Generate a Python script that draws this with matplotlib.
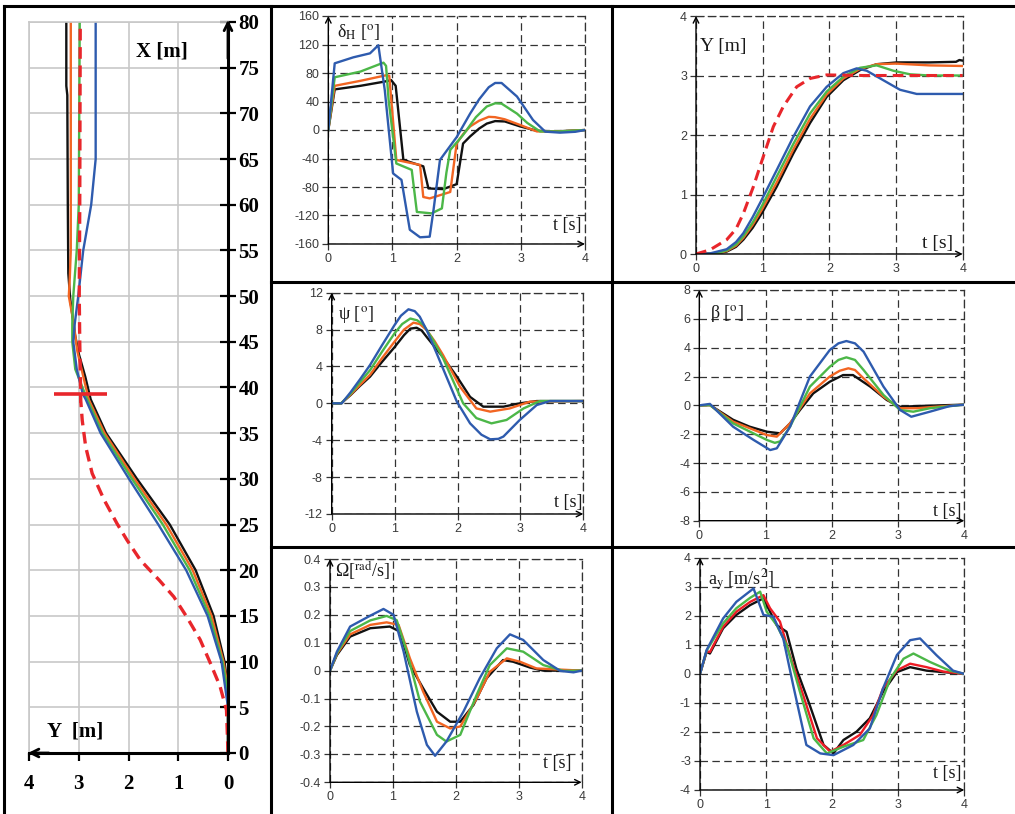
import numpy as np
import matplotlib
matplotlib.use('Agg')
import matplotlib.pyplot as plt

plt.rcParams['font.family'] = ['Liberation Sans', 'DejaVu Sans']
plt.rcParams['mathtext.fontset'] = 'stix'

W, H = 1015, 814

# colours of the four vehicle variants and the reference path
c_black = '#111111'
c_orange = '#F26522'
c_green = '#4CB748'
c_blue = '#2E5BAE'
c_red = '#E8262B'

# ---- trajectory Y [m] vs X [m] (left panel), pairs (Y, X)
tr_red = [(0, 0), (0.03, 4.7), (0.16, 7.3), (0.36, 9.9), (0.56, 12.4), (0.83, 14.9), (1.09, 17.1),
          (1.38, 18.9), (1.76, 21.1), (2.03, 23.3), (2.23, 25.1), (2.49, 27.7), (2.73, 30.6),
          (2.86, 33.5), (2.93, 36.4), (2.96, 38.6), (2.98, 45), (2.99, 50), (2.98, 60), (2.97, 80)]
tr_black = [(0, 0), (0, 7), (0.07, 10), (0.29, 15), (0.65, 20), (1.17, 25), (1.83, 30), (2.45, 35),
            (2.76, 38.7), (2.87, 41.2), (3.0, 43.7), (3.08, 45.9), (3.17, 49.6), (3.21, 52.5),
            (3.22, 60), (3.23, 72), (3.25, 73), (3.25, 80)]
tr_orange = [(0, 0), (0, 7), (0.09, 10), (0.33, 15), (0.71, 20), (1.24, 25), (1.88, 30), (2.48, 35),
             (2.8, 38.7), (2.9, 41), (3.03, 44), (3.1, 47), (3.2, 50), (3.18, 52), (3.16, 55),
             (3.16, 65), (3.16, 80)]
tr_green = [(0, 0), (0, 6.5), (0.11, 10), (0.37, 15), (0.77, 20), (1.31, 25), (1.93, 30), (2.52, 35),
            (2.83, 38.7), (3.07, 42), (3.13, 45), (3.13, 47), (3.11, 50), (3.04, 55), (3.0, 60),
            (2.98, 80)]
tr_blue = [(0, 0), (0, 5), (0.13, 10), (0.41, 15), (0.84, 20), (1.4, 25), (1.99, 30), (2.56, 35),
           (2.86, 38.7), (2.92, 39.3), (3.04, 42), (3.11, 45), (3.08, 47), (3.01, 50), (2.91, 55),
           (2.75, 60), (2.66, 65), (2.66, 80)]
gate = [(3.5, 39.3), (2.44, 39.3)]

# ---- steering wheel angle deltaH [deg] vs t [s]
dh_black = [(0, 0), (0.1, 57), (0.5, 62), (0.88, 68), (0.98, 70), (1.05, 62), (1.17, -42), (1.48, -51),
            (1.56, -82), (1.79, -83), (2.0, -76), (2.1, -19), (2.21, -9), (2.35, 2), (2.47, 9),
            (2.6, 12.5), (2.75, 12), (2.99, 5), (3.25, -1), (3.5, -2), (3.8, -1), (4.0, 0)]
dh_orange = [(0, 0), (0.1, 62), (0.5, 69), (0.91, 77), (0.95, 76), (1.06, -42), (1.43, -49), (1.48, -94),
             (1.58, -96), (1.9, -87), (2.0, -19), (2.1, -6), (2.21, 5), (2.35, 13), (2.5, 18.5),
             (2.6, 18), (2.75, 15), (2.99, 7), (3.25, -2), (3.6, -2), (4.0, 0)]
dh_green = [(0, 0), (0.1, 74), (0.5, 82), (0.86, 94.5), (0.9, 90), (0.94, 42), (1.06, -47), (1.3, -56),
            (1.38, -115), (1.61, -117), (1.77, -110), (1.84, -60), (1.9, -28), (2.1, -7), (2.3, 18),
            (2.47, 33), (2.6, 37.5), (2.7, 37), (2.94, 23), (3.1, 10), (3.3, -2), (3.6, -2), (4.0, 0)]
dh_blue = [(0, 0), (0.1, 93.6), (0.39, 102), (0.65, 107.6), (0.78, 119), (0.88, 56), (1.01, -61),
           (1.14, -70), (1.27, -140), (1.43, -150.6), (1.58, -149.7), (1.64, -112), (1.74, -42),
           (2.0, -10), (2.21, 23), (2.35, 43), (2.5, 60), (2.6, 66), (2.7, 66), (2.94, 47), (3.19, 14),
           (3.38, -2.3), (3.61, -3.7), (3.85, -2.5), (4.0, 0)]

# ---- lateral displacement Y [m] vs t [s]
y_red = [(0, 0), (0.21, 0.07), (0.46, 0.24), (0.6, 0.42), (0.71, 0.68), (0.86, 1.13), (1.01, 1.64),
         (1.16, 2.14), (1.31, 2.48), (1.51, 2.81), (1.71, 2.95), (1.96, 3.01), (2.5, 3.0), (4.0, 3.0)]
y_black = [(0, 0), (0.3, 0.01), (0.46, 0.04), (0.6, 0.12), (0.71, 0.24), (0.85, 0.44), (0.985, 0.68),
           (1.21, 1.13), (1.46, 1.69), (1.71, 2.2), (1.96, 2.64), (2.21, 2.92), (2.46, 3.09), (2.71, 3.19),
           (3.01, 3.22), (3.5, 3.22), (3.9, 3.23), (3.95, 3.26), (4.0, 3.25)]
y_orange = [(0, 0), (0.3, 0.01), (0.46, 0.05), (0.6, 0.14), (0.71, 0.27), (0.85, 0.49), (0.985, 0.74),
            (1.21, 1.2), (1.46, 1.76), (1.71, 2.27), (1.96, 2.68), (2.21, 2.95), (2.46, 3.11),
            (2.71, 3.19), (3.0, 3.2), (3.5, 3.17), (4.0, 3.16)]
y_green = [(0, 0), (0.3, 0.01), (0.46, 0.06), (0.6, 0.16), (0.71, 0.3), (0.85, 0.53), (0.985, 0.8),
           (1.21, 1.3), (1.46, 1.85), (1.71, 2.36), (1.96, 2.73), (2.21, 2.98), (2.46, 3.13),
           (2.71, 3.17), (2.96, 3.08), (3.21, 3.02), (3.5, 3.0), (4.0, 3.0)]
y_blue = [(0, 0), (0.21, 0.01), (0.46, 0.08), (0.6, 0.2), (0.71, 0.35), (0.85, 0.62), (0.985, 0.91),
          (1.21, 1.41), (1.46, 1.97), (1.71, 2.48), (1.96, 2.81), (2.21, 3.04), (2.41, 3.12),
          (2.56, 3.08), (2.81, 2.92), (3.06, 2.76), (3.31, 2.69), (4.0, 2.69)]

# ---- yaw angle psi [deg]
psi_black = [(0, 0), (0.15, 0), (0.3, 0.9), (0.45, 1.9), (0.61, 2.9), (0.8, 4.5), (1.0, 6.1), (1.15, 7.4),
             (1.25, 8.1), (1.35, 8.2), (1.43, 7.9), (1.51, 7.2), (1.64, 6.1), (1.77, 5.0), (1.99, 2.9),
             (2.2, 0.7), (2.41, -0.36), (2.73, -0.36), (2.99, 0), (3.26, 0.25), (4.0, 0.25)]
psi_orange = [(0, 0), (0.15, 0), (0.3, 0.95), (0.45, 2.0), (0.61, 3.1), (0.8, 4.9), (1.0, 6.7), (1.15, 8.0),
              (1.3, 8.75), (1.4, 8.6), (1.51, 7.95), (1.64, 6.7), (1.77, 5.24), (2.04, 1.8), (2.3, -0.55),
              (2.52, -0.9), (2.83, -0.55), (3.15, 0.18), (4.0, 0.25)]
psi_green = [(0, 0), (0.15, 0), (0.3, 1.05), (0.45, 2.3), (0.61, 3.6), (0.8, 5.6), (1.0, 7.6), (1.12, 8.6),
             (1.25, 9.2), (1.36, 9.0), (1.46, 8.5), (1.6, 7.0), (1.77, 4.9), (2.09, 0), (2.3, -1.6),
             (2.54, -2.17), (2.78, -1.8), (3.05, -0.55), (3.31, 0.25), (4.0, 0.25)]
psi_blue = [(0, 0), (0.16, 0), (0.3, 1.2), (0.45, 2.6), (0.61, 4.16), (0.8, 6.3), (1.0, 8.5), (1.1, 9.5),
            (1.22, 10.2), (1.32, 10.0), (1.4, 9.4), (1.52, 7.8), (1.67, 5.4), (1.99, 0.18), (2.2, -2.17),
            (2.38, -3.4), (2.52, -3.9), (2.65, -3.85), (2.73, -3.6), (2.99, -1.8), (3.26, -0.18),
            (3.47, 0.25), (4.0, 0.25)]

# ---- side slip angle beta [deg]
b_black = [(0, 0), (0.16, 0.02), (0.51, -1.0), (0.76, -1.48), (1.02, -1.83), (1.22, -1.94), (1.37, -1.25),
           (1.52, -0.32), (1.72, 0.83), (1.97, 1.64), (2.17, 2.1), (2.32, 2.1), (2.58, 1.3), (2.83, 0.37),
           (3.03, -0.1), (3.28, -0.05), (4.0, 0.05)]
b_orange = [(0, 0), (0.16, 0.02), (0.51, -1.13), (1.02, -2.06), (1.17, -2.17), (1.37, -1.25), (1.67, 0.83),
            (1.97, 2.0), (2.12, 2.4), (2.25, 2.57), (2.35, 2.45), (2.48, 1.87), (2.78, 0.6), (3.03, -0.2),
            (3.28, -0.2), (4.0, 0.05)]
b_green = [(0, 0), (0.16, 0.02), (0.51, -1.25), (1.02, -2.4), (1.14, -2.6), (1.22, -2.5), (1.37, -1.48),
           (1.67, 1.3), (1.97, 2.68), (2.1, 3.15), (2.22, 3.33), (2.35, 3.15), (2.48, 2.45), (2.78, 0.72),
           (3.03, -0.32), (3.23, -0.44), (3.48, -0.2), (4.0, 0.05)]
b_blue = [(0, 0), (0.16, 0.1), (0.51, -1.48), (0.82, -2.4), (1.07, -3.1), (1.17, -2.98), (1.37, -1.48),
          (1.67, 2.0), (1.97, 3.84), (2.1, 4.3), (2.22, 4.46), (2.35, 4.3), (2.48, 3.72), (2.78, 1.3),
          (3.03, -0.32), (3.2, -0.79), (3.48, -0.44), (3.78, -0.05), (4.0, 0.05)]

# ---- yaw rate Omega [rad/s]
w_black = [(0, 0), (0.11, 0.056), (0.32, 0.122), (0.64, 0.152), (0.95, 0.158), (1.11, 0.14), (1.27, 0.02),
           (1.48, -0.063), (1.7, -0.147), (1.91, -0.183), (2.07, -0.183), (2.28, -0.123), (2.49, -0.027),
           (2.75, 0.038), (2.91, 0.032), (3.18, 0.011), (3.39, 0), (4.0, 0)]
w_orange = [(0, 0), (0.11, 0.06), (0.32, 0.13), (0.64, 0.164), (0.9, 0.173), (1.09, 0.164), (1.27, 0.044),
            (1.48, -0.075), (1.7, -0.183), (1.91, -0.207), (2.07, -0.2), (2.33, -0.1), (2.54, -0.004),
            (2.81, 0.044), (3.02, 0.032), (3.28, 0.008), (4.0, 0)]
w_green = [(0, 0), (0.11, 0.063), (0.32, 0.142), (0.64, 0.18), (0.9, 0.196), (1.06, 0.181), (1.22, 0.068),
           (1.43, -0.111), (1.7, -0.23), (1.85, -0.254), (2.07, -0.23), (2.33, -0.087), (2.54, 0.02),
           (2.81, 0.08), (3.07, 0.068), (3.39, 0.02), (3.71, -0.001), (4.0, 0)]
w_blue = [(0, 0), (0.11, 0.068), (0.32, 0.158), (0.64, 0.197), (0.85, 0.221), (1.01, 0.2), (1.17, 0.068),
          (1.38, -0.147), (1.54, -0.266), (1.67, -0.305), (1.85, -0.254), (2.12, -0.147), (2.38, -0.027),
          (2.65, 0.08), (2.86, 0.13), (3.07, 0.11), (3.39, 0.038), (3.66, -0.001), (3.87, -0.006), (4.0, 0)]

# ---- lateral acceleration ay [m/s2]
a_black = [(0, 0), (0.1, 0.76), (0.15, 0.7), (0.35, 1.57), (0.55, 2.03), (0.76, 2.37), (0.96, 2.6),
           (1.06, 2.14), (1.16, 1.68), (1.31, 1.45), (1.46, 0.17), (1.66, -1.07), (1.87, -2.45),
           (2.02, -2.74), (2.17, -2.28), (2.37, -1.99), (2.57, -1.53), (2.77, -0.62), (2.98, 0.06),
           (3.18, 0.23), (3.43, 0.11), (3.68, 0.06), (4.0, 0)]
a_red = [(0, 0), (0.1, 0.78), (0.15, 0.75), (0.35, 1.62), (0.55, 2.14), (0.76, 2.48), (0.96, 2.71),
         (1.06, 2.26), (1.21, 1.8), (1.36, 0.65), (1.56, -0.72), (1.77, -2.22), (1.97, -2.68), (2.17, -2.45),
         (2.42, -2.1), (2.62, -1.42), (2.77, -0.5), (2.98, 0.12), (3.18, 0.35), (3.43, 0.23), (3.68, 0.08),
         (4.0, 0)]
a_green = [(0, 0), (0.1, 0.8), (0.35, 1.74), (0.55, 2.26), (0.76, 2.62), (0.91, 2.83), (1.01, 2.14),
           (1.16, 1.68), (1.31, 1.0), (1.51, -0.6), (1.72, -2.22), (1.92, -2.74), (2.17, -2.51),
           (2.47, -2.28), (2.67, -1.42), (2.88, -0.17), (3.08, 0.52), (3.23, 0.7), (3.48, 0.41),
           (3.78, 0.11), (4.0, 0)]
a_blue = [(0, 0), (0.1, 0.82), (0.35, 1.91), (0.55, 2.48), (0.81, 2.94), (0.96, 2.03), (1.11, 1.97),
          (1.26, 1.22), (1.41, -0.39), (1.61, -2.45), (1.82, -2.74), (2.02, -2.8), (2.32, -2.45),
          (2.57, -1.88), (2.77, -0.5), (2.98, 0.65), (3.18, 1.16), (3.33, 1.22), (3.58, 0.64),
          (3.83, 0.11), (4.0, 0)]

t_ticks = [0, 1, 2, 3, 4]
dh_ticks = [-160, -120, -80, -40, 0, 40, 80, 120, 160]
y_ticks = [0, 1, 2, 3, 4]
psi_ticks = [-12, -8, -4, 0, 4, 8, 12]
b_ticks = [-8, -6, -4, -2, 0, 2, 4, 6, 8]
w_ticks = [-0.4, -0.3, -0.2, -0.1, 0, 0.1, 0.2, 0.3, 0.4]
w_labels = ['-0.4', '-0.3', '-0.2', '-0.1', '0', '0.1', '0.2', '0.3', '0.4']
a_ticks = [-4, -3, -2, -1, 0, 1, 2, 3, 4]
X_ticks = list(range(0, 85, 5))
Yl_ticks = [0, 1, 2, 3, 4]

fig = plt.figure(figsize=(W / 100, H / 100), dpi=100)


def px(x0, x1, top, bot):
    return [x0 / W, 1 - bot / H, (x1 - x0) / W, (bot - top) / H]


def pts(data):
    a = np.array(data, dtype=float)
    return a[:, 0], a[:, 1]


DASH = (0, (6, 3.5))
LW = 1.7


def small_axes(rect, ylim, yticks, ylabels=None):
    ax = fig.add_axes(px(*rect))
    ax.set_xlim(0, 4)
    ax.set_ylim(*ylim)
    ax.set_xticks(t_ticks)
    ax.set_yticks(yticks)
    if ylabels is not None:
        ax.set_yticklabels(ylabels)
    else:
        ax.set_yticklabels([str(v) for v in yticks])
    ax.grid(True, color='#333333', lw=0.9, ls=DASH)
    ax.spines['left'].set_visible(False)
    ax.spines['bottom'].set_visible(False)
    for s in ['top', 'right']:
        ax.spines[s].set_linestyle(DASH)
        ax.spines[s].set_linewidth(0.9)
        ax.spines[s].set_color('#333333')
    ax.tick_params(direction='out', length=4, width=0.9, color='#333333',
                   labelsize=9, labelcolor='#3a3a3a', pad=2.5)
    arrow = dict(arrowstyle='->', lw=1.0, color='black', shrinkA=0, shrinkB=0, mutation_scale=10)
    ax.annotate('', xy=(0, 1.0), xytext=(0, 0), xycoords='axes fraction', arrowprops=arrow)
    ax.annotate('', xy=(1.0, 0), xytext=(0, 0), xycoords='axes fraction', arrowprops=arrow)
    return ax


def label(ax, x, y, s, ha='left', size=13):
    ax.text(x, y, s, transform=ax.transAxes, ha=ha, va='center', fontsize=size,
            family='Liberation Serif', color='#1a1a1a')


# ---------------- left panel: trajectory
axl = fig.add_axes(px(29, 228, 22, 753))
axl.set_xlim(4, 0)
axl.set_ylim(0, 80)
axl.set_xticks(Yl_ticks)
axl.set_yticks(X_ticks)
axl.yaxis.tick_right()
axl.grid(True, color='#c8c8c8', lw=1.2)
axl.set_axisbelow(True)
axl.spines['left'].set_color('#c8c8c8')
axl.spines['top'].set_color('#c8c8c8')
axl.spines['left'].set_linewidth(1.2)
axl.spines['top'].set_linewidth(1.2)
axl.spines['right'].set_linewidth(2.2)
axl.spines['bottom'].set_linewidth(2.2)
axl.tick_params(axis='y', direction='inout', length=11, width=1.6, pad=2)
axl.tick_params(axis='x', direction='out', length=6, width=1.6, pad=9)
for lb in axl.get_xticklabels() + axl.get_yticklabels():
    lb.set_family('Liberation Serif')
    lb.set_fontweight('bold')
    lb.set_fontsize(15)
arr_l = dict(arrowstyle='->', lw=2.0, color='black', shrinkA=0, shrinkB=0, mutation_scale=14)
axl.annotate('', xy=(1.0, 1.003), xytext=(1.0, 0.95), xycoords='axes fraction', arrowprops=arr_l)
axl.annotate('', xy=(-0.005, 0), xytext=(0.1, 0), xycoords='axes fraction', arrowprops=arr_l)

for data, col in [(tr_black, c_black), (tr_orange, c_orange), (tr_green, c_green), (tr_blue, c_blue)]:
    yy, xx = pts(data)
    axl.plot(yy, xx, color=col, lw=1.7)
yy, xx = pts(tr_red)
axl.plot(yy, xx, color=c_red, lw=2.4, dashes=(3.5, 2))
gy, gx = pts(gate)
axl.plot(gy, gx, color=c_red, lw=2.6, solid_capstyle='butt')
axl.plot([2.98, 2.98], [gx[0], gx[0] - 0.8], color=c_red, lw=2)
axl.text(0.67, 0.96, 'X [m]', transform=axl.transAxes, fontsize=15, fontweight='bold',
         family='Liberation Serif', ha='center', va='center')
axl.text(0.23, 0.03, 'Y  [m]', transform=axl.transAxes, fontsize=15, fontweight='bold',
         family='Liberation Serif', ha='center', va='center')

# ---------------- deltaH
ax = small_axes((328.3, 585, 16, 244), (-160, 160), dh_ticks)
for data, col in [(dh_black, c_black), (dh_orange, c_orange), (dh_green, c_green), (dh_blue, c_blue)]:
    t, v = pts(data)
    ax.plot(t, v, color=col, lw=LW)
label(ax, 0.034, 0.93, 'δ$_{\\rm H}$ [$^{\\rm o}$]')
label(ax, 0.988, 0.079, 't [s]', ha='right')

# ---------------- Y(t)
ax = small_axes((696, 962.7, 16, 254), (0, 4), y_ticks)
for data, col in [(y_black, c_black), (y_orange, c_orange), (y_green, c_green), (y_blue, c_blue)]:
    t, v = pts(data)
    ax.plot(t, v, color=col, lw=LW)
t, v = pts(y_red)
ax.plot(t, v, color=c_red, lw=2.2, dashes=(3.5, 2))
label(ax, 0.015, 0.87, 'Y [m]', size=14)
label(ax, 0.964, 0.045, 't [s]', ha='right', size=14)

# ---------------- psi
ax = small_axes((331.7, 583.3, 292.7, 514), (-12, 12), psi_ticks)
for data, col in [(psi_black, c_black), (psi_orange, c_orange), (psi_green, c_green), (psi_blue, c_blue)]:
    t, v = pts(data)
    ax.plot(t, v, color=col, lw=LW)
label(ax, 0.025, 0.9, 'ψ [$^{\\rm o}$]')
label(ax, 0.995, 0.054, 't [s]', ha='right')

# ---------------- beta
ax = small_axes((699.3, 964.3, 290, 520.7), (-8, 8), b_ticks)
for data, col in [(b_black, c_black), (b_orange, c_orange), (b_green, c_green), (b_blue, c_blue)]:
    t, v = pts(data)
    ax.plot(t, v, color=col, lw=LW)
label(ax, 0.04, 0.9, 'β [$^{\\rm o}$]')
label(ax, 0.991, 0.04, 't [s]', ha='right')

# ---------------- Omega
ax = small_axes((330, 581.7, 559, 782.3), (-0.4, 0.4), w_ticks, w_labels)
for data, col in [(w_black, c_black), (w_orange, c_orange), (w_green, c_green), (w_blue, c_blue)]:
    t, v = pts(data)
    ax.plot(t, v, color=col, lw=LW)
label(ax, 0.02, 0.95, 'Ω[$^{\\rm rad}$/s]')
label(ax, 0.961, 0.082, 't [s]', ha='right')

# ---------------- ay
ax = small_axes((700, 964.3, 557.7, 790), (-4, 4), a_ticks)
for data, col in [(a_black, c_black), (a_red, '#EE1C25'), (a_green, c_green), (a_blue, c_blue)]:
    t, v = pts(data)
    ax.plot(t, v, color=col, lw=LW)
label(ax, 0.03, 0.904, 'a$_{\\rm y}$ [m/s$^{2}$]')
label(ax, 0.991, 0.073, 't [s]', ha='right')

# ---------------- table borders
ov = fig.add_axes([0, 0, 1, 1], zorder=10)
ov.set_xlim(0, W)
ov.set_ylim(H, 0)
ov.axis('off')
ov.patch.set_alpha(0)
bw = 2.2
ov.plot([4, W], [6, 6], color='black', lw=bw)
ov.plot([4, 4], [6, H], color='black', lw=bw)
ov.plot([271, 271], [6, H], color='black', lw=bw)
ov.plot([612, 612], [6, H], color='black', lw=bw)
ov.plot([271, W], [282, 282], color='black', lw=bw)
ov.plot([271, W], [547, 547], color='black', lw=bw)

fig.savefig('out.png', dpi=100)
